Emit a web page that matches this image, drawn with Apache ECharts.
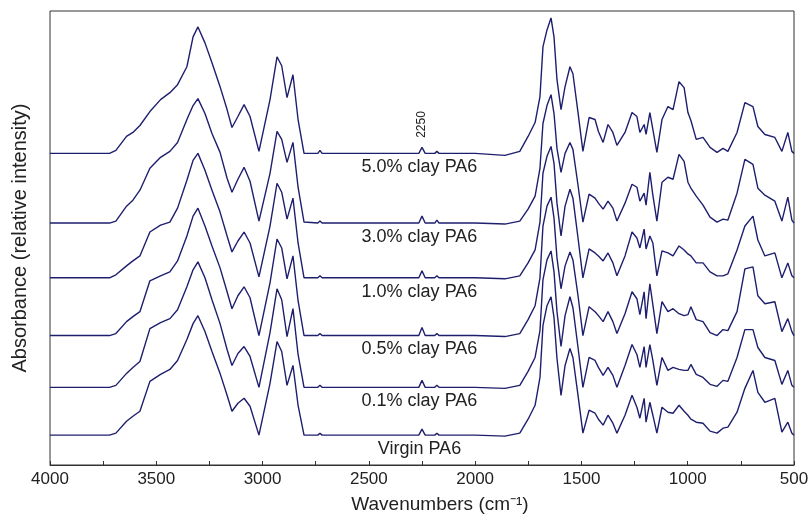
<!DOCTYPE html>
<html>
<head>
<meta charset="utf-8">
<script src="https://cdn.jsdelivr.net/npm/echarts@6/dist/echarts.min.js"></script>
<style>
  html, body { margin: 0; padding: 0; background: #fff; }
  #chart { width: 812px; height: 519px; }
</style>
</head>
<body>
<div id="chart"></div>
<script>
// wavenumbers (cm-1), shared by all spectra
var wavenumbers = [
  4000, 3720, 3690, 3640, 3610, 3577, 3530, 3480, 3436, 3400, 3356, 3327,
  3304, 3271, 3238, 3200, 3167, 3144, 3116, 3087, 3059, 3017, 2965, 2932, 2910, 2885, 2857, 2833, 2805,
  2740, 2730, 2720, 2400, 2265, 2250, 2235, 2190, 2180, 2170, 2000, 1860, 1790,
  1751, 1718, 1695, 1681, 1662, 1643, 1629, 1615, 1596, 1577, 1554, 1540, 1516, 1493,
  1464, 1436, 1420, 1398, 1375, 1352, 1333, 1295, 1262, 1239, 1225, 1205, 1196, 1178, 1164, 1145,
  1121, 1093, 1069, 1041, 1017, 999, 985, 960, 928, 895, 862, 834, 811, 768,
  731, 693, 670, 637, 590, 557, 529, 510, 500
];

var sampleNames = ['5.0% clay PA6', '3.0% clay PA6', '1.0% clay PA6', '0.5% clay PA6', '0.1% clay PA6', 'Virgin PA6'];
// vertical offset of each trace (stacked for clarity)
var offsets = [313, 243, 188, 130, 78, 30];

// absorbance above each trace's own baseline
var clay50 = [
  0, 0, 3, 17, 21, 28, 42, 54, 61, 69, 87, 117,
  127, 111, 91, 67, 44, 26, 37, 49, 37, 2, 54, 97, 88, 56, 79, 34, 0,
  0, 3, 0, 0, 0, 6, 0, 0, 2, 0, 0, -2, 2,
  17, 31, 57, 107, 124, 136, 117, 74, 44, 67, 87, 80, 41, 2,
  36, 34, 22, 11, 29, 21, 8, 21, 41, 37, 21, 29, 19, 41, 24, 1,
  34, 47, 44, 72, 66, 41, 33, 14, 16, 6, 1, 5, 2, 21,
  51, 47, 27, 19, 16, 2, 21, 2, 0
];
var clay30 = [
  0, 0, 2, 17, 23, 33, 55, 66, 72, 81, 104, 118,
  125, 110, 90, 71, 45, 31, 44, 56, 42, 2, 50, 92, 84, 61, 81, 36, 1,
  0, 2, 0, 0, 0, 7, 0, 0, 3, 0, 0, -1, 2,
  14, 27, 55, 100, 118, 129, 110, 75, 51, 70, 81, 74, 38, 1,
  29, 25, 20, 14, 22, 15, 2, 20, 39, 36, 22, 30, 18, 51, 28, 2,
  41, 46, 44, 69, 62, 41, 35, 27, 18, 6, 1, 4, 3, 30,
  64, 59, 35, 28, 22, 2, 26, 3, 0
];
var clay10 = [
  0, 0, 3, 12, 17, 22, 46, 53, 56, 70, 98, 118,
  125, 108, 88, 66, 42, 26, 37, 46, 35, 1, 52, 95, 86, 59, 80, 35, 0,
  0, 2, 0, 0, 0, 7, 0, 0, 2, 0, 0, -1, 2,
  15, 28, 56, 105, 122, 132, 115, 75, 42, 72, 89, 80, 40, 0,
  29, 25, 22, 17, 25, 15, 2, 22, 46, 40, 30, 49, 29, 42, 35, 2,
  27, 25, 22, 32, 28, 24, 22, 15, 15, 6, 2, 2, 4, 28,
  52, 62, 38, 22, 25, 0, 15, 2, 0
];
var clay05 = [
  0, 0, 2, 14, 19, 24, 55, 60, 64, 75, 100, 120,
  128, 110, 90, 68, 44, 27, 40, 49, 38, 0, 53, 97, 88, 57, 80, 35, 0,
  0, 2, 0, 0, 0, 8, 0, 0, 2, 0, 0, -1, 2,
  16, 30, 58, 110, 130, 139, 118, 78, 47, 70, 84, 76, 40, 0,
  29, 24, 20, 14, 24, 14, 2, 22, 44, 37, 21, 44, 17, 52, 31, 2,
  34, 24, 27, 22, 20, 21, 29, 16, 14, 3, 0, 6, 5, 24,
  67, 69, 40, 32, 34, 4, 17, 4, 0
];
var clay01 = [
  0, 0, 2, 14, 20, 26, 59, 65, 69, 78, 101, 118,
  126, 110, 88, 64, 38, 22, 34, 41, 31, 0, 55, 99, 88, 51, 79, 33, 0,
  0, 2, 0, 0, 0, 7, 0, 0, 2, 0, 0, -1, 2,
  16, 30, 57, 108, 128, 137, 116, 76, 41, 72, 91, 80, 40, 0,
  30, 27, 20, 12, 20, 12, 0, 22, 43, 33, 20, 41, 20, 43, 27, 2,
  30, 17, 20, 18, 17, 17, 23, 13, 10, 3, 1, 7, 6, 30,
  58, 58, 40, 30, 27, 3, 17, 2, 0
];
var virgin = [
  0, 0, 2, 14, 19, 24, 54, 61, 66, 75, 96, 112,
  120, 104, 84, 62, 40, 24, 32, 37, 29, 0, 52, 94, 84, 50, 70, 30, 0,
  0, 2, 0, 0, 0, 6, 0, 0, 2, 0, 0, -1, 2,
  16, 30, 58, 110, 130, 139, 118, 77, 40, 70, 87, 78, 40, 2,
  25, 22, 16, 10, 20, 12, 2, 20, 40, 28, 17, 37, 13, 33, 20, 2,
  28, 23, 22, 30, 24, 20, 16, 13, 12, 4, 2, 7, 8, 23,
  47, 65, 43, 33, 37, 3, 13, 2, 0
];

var spectra = [clay50, clay30, clay10, clay05, clay01, virgin];
var lineColor = '#1e1e6e';
var fontFam = 'Liberation Sans, Arial, sans-serif';

var myChart = echarts.init(document.getElementById('chart'));

var series = spectra.map(function(spec, k) {
  return {
    name: sampleNames[k],
    type: 'line',
    showSymbol: false,
    animation: false,
    lineStyle: { color: lineColor, width: 1.4 },
    data: wavenumbers.map(function(w, i) { return [w, offsets[k] + spec[i]]; })
  };
});

var option = {
  backgroundColor: '#fff',
  animation: false,
  grid: {
    left: 50, right: 18, top: 11, bottom: 52,
    show: true, borderColor: '#333', borderWidth: 1
  },
  xAxis: {
    type: 'value',
    min: 500, max: 4000, interval: 250,
    inverse: true,
    name: 'Wavenumbers (cm\u207B\u00B9)',
    nameLocation: 'middle',
    nameGap: 30,
    nameTextStyle: { fontSize: 19, color: '#222', fontFamily: fontFam, padding: [0, 0, 0, 36] },
    axisLine: { lineStyle: { color: '#333', width: 1 } },
    axisTick: { inside: true, length: 4, lineStyle: { color: '#333' } },
    splitLine: { show: false },
    axisLabel: {
      fontSize: 17, color: '#222', fontFamily: fontFam, margin: 6,
      formatter: function(v) { return v % 500 === 0 ? String(v) : ''; }
    }
  },
  yAxis: {
    type: 'value',
    min: 0, max: 456,
    name: 'Absorbance (relative intensity)',
    nameLocation: 'middle',
    nameRotate: 90,
    nameGap: 20,
    nameTextStyle: { fontSize: 20, color: '#222', fontFamily: fontFam },
    axisLine: { show: false },
    axisTick: { show: false },
    axisLabel: { show: false },
    splitLine: { show: false }
  },
  series: series
};
myChart.setOption(option);

// sample labels under each trace, plus the 2250 peak marker
var graphics = sampleNames.map(function(name, k) {
  var p = myChart.convertToPixel({ xAxisIndex: 0, yAxisIndex: 0 }, [2262, offsets[k] - 14]);
  return {
    type: 'text', x: p[0], y: p[1],
    style: { text: name, fill: '#222', font: '18px ' + fontFam, textAlign: 'center', textVerticalAlign: 'middle' }
  };
});
var pk = myChart.convertToPixel({ xAxisIndex: 0, yAxisIndex: 0 }, [2250, offsets[0] + 29]);
graphics.push({
  type: 'text', x: pk[0], y: pk[1], rotation: Math.PI / 2,
  style: { text: '2250', fill: '#222', font: '12px ' + fontFam, textAlign: 'center', textVerticalAlign: 'middle' }
});
myChart.setOption({ graphic: graphics });
</script>
</body>
</html>
